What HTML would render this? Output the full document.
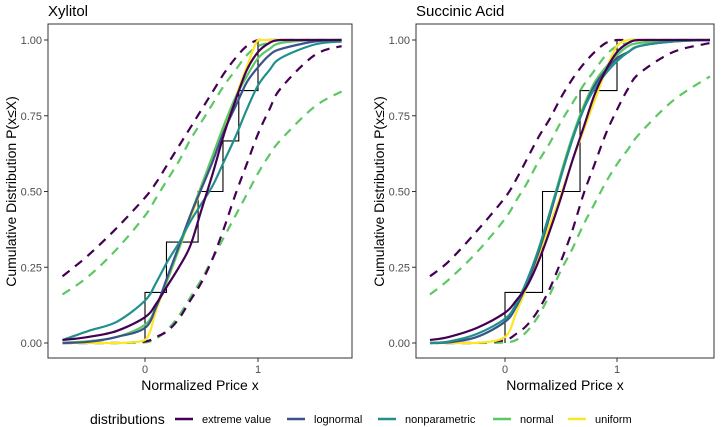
<!DOCTYPE html>
<html><head><meta charset="utf-8"><style>
body{margin:0;background:#fff}
svg{display:block;font-family:"Liberation Sans",Arial,sans-serif}
</style></head><body>
<svg id="chart" width="726" height="427" viewBox="0 0 726 427">
<rect width="726" height="427" fill="#fff"/>
</svg>
<script>
// ---- Xylitol data ----
const xylX = [-0.73,-0.5,-0.25,0,0.1,0.2,0.3,0.4,0.5,0.6,0.7,0.8,0.9,1.0,1.1,1.2,1.5,1.74];
const xylEV = [0.01,0.02,0.04,0.085,0.13,0.19,0.25,0.32,0.44,0.56,0.69,0.80,0.90,0.96,0.99,1,1,1];
const xylLogn = [0,0.004,0.02,0.05,0.12,0.22,0.32,0.42,0.51,0.6,0.7,0.78,0.86,0.91,0.95,0.97,0.995,1];
const xylNonp = [0.01,0.04,0.07,0.14,0.2,0.27,0.33,0.4,0.46,0.52,0.6,0.68,0.77,0.85,0.9,0.94,0.985,0.995];
const xylNorm = [0.001,0.006,0.02,0.06,0.12,0.21,0.31,0.42,0.52,0.62,0.72,0.81,0.88,0.94,0.97,0.99,1,1];
const xylUnif = [0,0,0,0.01,0.11,0.21,0.31,0.41,0.51,0.61,0.71,0.81,0.91,1,1,1,1,1];
const xylEVHi = [0.22,0.29,0.38,0.48,0.53,0.59,0.65,0.71,0.77,0.83,0.89,0.94,0.98,1,1,1,1,1];
const xylNormHi = [0.16,0.22,0.31,0.42,0.48,0.54,0.6,0.67,0.73,0.79,0.85,0.9,0.95,0.98,0.99,1,1,1];
const xylEVLo = [0,0,0,0.005,0.02,0.04,0.08,0.14,0.2,0.28,0.38,0.49,0.59,0.69,0.77,0.84,0.95,0.98];
const xylNormLo = [0,0,0,0.002,0.015,0.045,0.09,0.15,0.21,0.28,0.35,0.42,0.49,0.56,0.62,0.67,0.78,0.83];
const xylStepX = [0,0.19,0.47,0.69,0.83,1.0];
const xylStepY = [0.167,0.333,0.5,0.667,0.833,1.0];
// ---- Succinic data ----
const sucX = [-0.67,-0.5,-0.25,0,0.1,0.2,0.3,0.4,0.5,0.6,0.7,0.8,0.9,1.0,1.1,1.2,1.5,1.83];
const sucEV = [0.01,0.02,0.05,0.10,0.14,0.19,0.27,0.37,0.48,0.6,0.71,0.82,0.9,0.96,0.99,1,1,1];
const sucLogn = [0,0.002,0.02,0.07,0.12,0.2,0.3,0.42,0.55,0.67,0.77,0.85,0.9,0.94,0.96,0.98,0.995,1];
const sucNonp = [0,0.005,0.03,0.08,0.13,0.21,0.31,0.43,0.55,0.67,0.77,0.84,0.89,0.93,0.96,0.98,0.995,1];
const sucNorm = [0,0.003,0.02,0.07,0.12,0.2,0.31,0.43,0.56,0.68,0.78,0.86,0.91,0.95,0.98,0.99,1,1];
const sucUnif = [0,0,0,0.02,0.1,0.19,0.29,0.39,0.49,0.6,0.7,0.8,0.9,0.98,1,1,1,1];
const sucEVHi = [0.22,0.27,0.37,0.48,0.54,0.61,0.68,0.74,0.81,0.87,0.92,0.96,0.99,1,1,1,1,1];
const sucNormHi = [0.16,0.21,0.3,0.41,0.47,0.53,0.6,0.66,0.73,0.79,0.85,0.9,0.95,0.98,0.99,1,1,1];
const sucEVLo = [0,0,0,0.01,0.03,0.06,0.11,0.18,0.27,0.37,0.49,0.59,0.69,0.77,0.84,0.89,0.96,0.99];
const sucNormLo = [0,0,0,0.002,0.01,0.04,0.09,0.16,0.24,0.31,0.39,0.46,0.53,0.59,0.64,0.69,0.8,0.88];
const sucStepX = [0,0.335,0.67,1.0];
const sucStepY = [0.167,0.5,0.833,1.0];
// ---- shared ----
const yTicks = [0,0.25,0.5,0.75,1];
const yTickLabels = ["0.00","0.25","0.50","0.75","1.00"];
const xTicks = [0,1];
const xTickLabels = ["0","1"];
const seriesNames = ["extreme value","lognormal","nonparametric","normal","uniform"];
const seriesColors = ["#440154","#3b528b","#21908c","#5dc863","#fde725"];

const NS="http://www.w3.org/2000/svg";
const svg=document.getElementById('chart');
function mk(tag,attrs,parent){const e=document.createElementNS(NS,tag);for(const k in attrs)e.setAttribute(k,attrs[k]);(parent||svg).appendChild(e);return e;}
function smooth(pts){
  let d="M"+pts[0][0].toFixed(1)+","+pts[0][1].toFixed(1);
  for(let i=0;i<pts.length-1;i++){
    const p0=pts[Math.max(0,i-1)],p1=pts[i],p2=pts[i+1],p3=pts[Math.min(pts.length-1,i+2)];
    let c1y=p1[1]+(p2[1]-p0[1])/6, c2y=p2[1]-(p3[1]-p1[1])/6;
    const lo=Math.min(p1[1],p2[1]),hi=Math.max(p1[1],p2[1]);
    c1y=Math.min(hi,Math.max(lo,c1y));c2y=Math.min(hi,Math.max(lo,c2y));
    d+=" C"+(p1[0]+(p2[0]-p0[0])/6).toFixed(1)+","+c1y.toFixed(1)+" "+(p2[0]-(p3[0]-p1[0])/6).toFixed(1)+","+c2y.toFixed(1)+" "+p2[0].toFixed(1)+","+p2[1].toFixed(1);
  }
  return d;
}
function panel(cfg){
  const g=mk('g',{});
  
  
  const sx=v=>cfg.x0+(v)*cfg.ux, sy=v=>cfg.yb-(v)*(cfg.yb-cfg.yt);
  const t=mk('text',{x:cfg.left,y:16,'font-size':15,fill:'#000'},g);t.textContent=cfg.title;
  
  
  yTicks.forEach((v,i)=>{
    const y=sy(v);
    mk('line',{x1:cfg.left-4,x2:cfg.left,y1:y,y2:y,stroke:'#333','stroke-width':1},g);
    const l=mk('text',{x:cfg.left-6,y:y+4,'font-size':11,fill:'#4d4d4d','text-anchor':'end'},g);l.textContent=yTickLabels[i];
    
    
  });
  xTicks.forEach((v,i)=>{
    const x=sx(v);
    mk('line',{x1:x,x2:x,y1:358,y2:362,stroke:'#333','stroke-width':1},g);
    const l=mk('text',{x:x,y:373,'font-size':11,fill:'#4d4d4d','text-anchor':'middle'},g);l.textContent=xTickLabels[i];
    
    
  });
  const xt=mk('text',{x:(cfg.left+cfg.right)/2,y:390,'font-size':14,fill:'#000','text-anchor':'middle'},g);xt.textContent="Normalized Price x";
  
  
  const yt=mk('text',{x:0,y:0,'font-size':14,fill:'#000','text-anchor':'middle',transform:`translate(${cfg.left-32},${(cfg.yt+cfg.yb)/2}) rotate(-90)`},g);yt.textContent="Cumulative Distribution P(x≤X)";
  
  
  let d="M"+sx(cfg.stepX[0])+","+sy(0);
  cfg.stepX.forEach((x,i)=>{d+=" L"+sx(x)+","+sy(cfg.stepY[i]);if(i<cfg.stepX.length-1)d+=" L"+sx(cfg.stepX[i+1])+","+sy(cfg.stepY[i]);});
  const st=mk('path',{d:d,fill:'none',stroke:'#000','stroke-width':1.1},g);
  
  
  const line=(arr,color,dash,nm)=>{
    const pts=cfg.xs.map((x,i)=>[sx(x),sy(arr[i])]);
    const p=mk('path',{d:smooth(pts),fill:'none',stroke:color,'stroke-width':2.2,'stroke-dasharray':dash?'9,7':'none','stroke-linecap':'butt'},g);
    
    
  };
  line(cfg.normLo,seriesColors[3],true,'normal-lower-bound');
  line(cfg.normHi,seriesColors[3],true,'normal-upper-bound');
  line(cfg.evLo,seriesColors[0],true,'extreme-value-lower-bound');
  line(cfg.evHi,seriesColors[0],true,'extreme-value-upper-bound');
  line(cfg.unif,seriesColors[4],false,'uniform-line');
  line(cfg.norm,seriesColors[3],false,'normal-line');
  line(cfg.logn,seriesColors[1],false,'lognormal-line');
  line(cfg.nonp,seriesColors[2],false,'nonparametric-line');
  line(cfg.ev,seriesColors[0],false,'extreme-value-line');
  const b=mk('rect',{x:cfg.left,y:cfg.top,width:cfg.right-cfg.left,height:358-cfg.top,fill:'none',stroke:'#333','stroke-width':1},g);
  
  
}
panel({name:'xylitol',title:'Xylitol',left:48,right:352,top:24,yt:40,yb:343,x0:145,ux:113,xs:xylX,ev:xylEV,logn:xylLogn,nonp:xylNonp,norm:xylNorm,unif:xylUnif,evHi:xylEVHi,normHi:xylNormHi,evLo:xylEVLo,normLo:xylNormLo,stepX:xylStepX,stepY:xylStepY});
panel({name:'succinic-acid',title:'Succinic Acid',left:416,right:714,top:24,yt:40,yb:343,x0:505,ux:112,xs:sucX,ev:sucEV,logn:sucLogn,nonp:sucNonp,norm:sucNorm,unif:sucUnif,evHi:sucEVHi,normHi:sucNormHi,evLo:sucEVLo,normLo:sucNormLo,stepX:sucStepX,stepY:sucStepY});
const lg=mk('g',{});


const lt=mk('text',{x:90,y:424,'font-size':14,fill:'#000'},lg);lt.textContent='distributions';
const keyX=[175,287,378,493,568];
seriesNames.forEach((n,i)=>{
  const e=mk('g',{},lg);
  
  
  mk('line',{x1:keyX[i],x2:keyX[i]+18,y1:419,y2:419,stroke:seriesColors[i],'stroke-width':2.5},e);
  const t=mk('text',{x:keyX[i]+27,y:423,'font-size':11,fill:'#000'},e);t.textContent=n;
});
</script>
</body></html>
